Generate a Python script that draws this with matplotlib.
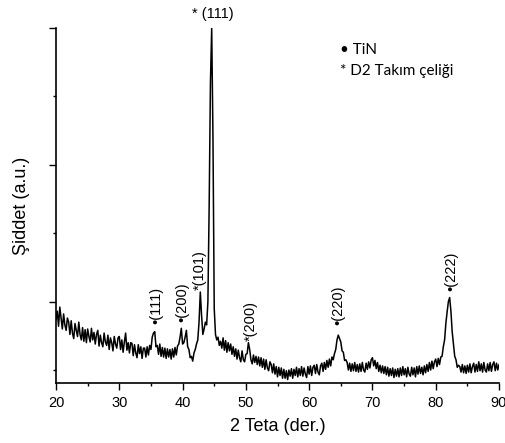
import numpy as np
import matplotlib.pyplot as plt
from matplotlib.ticker import MultipleLocator

# XRD pattern, 0.2 degree steps from 20 to 90
two_theta = np.linspace(20, 90, 351)
intensity = [
    870, 930, 820, 960, 880, 800, 910, 830, 790, 880,   # 20
    850, 760, 860, 770, 730, 840, 790, 745, 850, 760,   # 22
    720, 810, 710, 795, 700, 800, 745, 705, 805, 720,   # 24
    775, 690, 760, 790, 675, 755, 700, 670, 770, 705,   # 26
    680, 755, 650, 735, 700, 640, 745, 690, 660, 735,   # 28
    745, 650, 720, 630, 705, 770, 645, 700, 625, 700,   # 30
    695, 605, 685, 625, 590, 685, 620, 670, 585, 660,   # 32
    660, 595, 670, 610, 680, 650, 740, 770, 780, 670,   # 34
    680, 615, 690, 600, 665, 595, 660, 585, 655, 595,   # 36
    650, 580, 655, 595, 665, 610, 675, 690, 740, 805,   # 38
    690, 700, 740, 790, 670, 650, 590, 600, 565, 625,   # 40
    650, 690, 720, 850, 1070, 900, 760, 800, 850, 830,  # 42
    1000, 1700, 2600, 3000, 2200, 950, 760, 720, 740, 680,  # 44
    710, 660, 735, 645, 715, 630, 700, 640, 690, 615,   # 46
    670, 600, 655, 580, 645, 590, 560, 640, 575, 560,   # 48
    615, 620, 700, 650, 575, 545, 610, 555, 600, 540,   # 50
    595, 530, 590, 520, 580, 505, 575, 515, 495, 560,   # 52
    540, 480, 545, 470, 525, 450, 520, 460, 515, 440,   # 54
    505, 440, 495, 430, 500, 455, 510, 440, 505, 460,   # 56
    520, 450, 510, 460, 525, 455, 515, 470, 445, 525,   # 58
    470, 530, 460, 520, 535, 475, 540, 485, 465, 530,   # 60
    550, 490, 555, 505, 570, 520, 580, 530, 595, 575,   # 62
    620, 650, 720, 755, 730, 705, 640, 630, 570, 575,   # 64
    555, 500, 550, 490, 545, 495, 555, 490, 540, 485,   # 66
    545, 490, 555, 500, 485, 550, 505, 560, 515, 575,   # 68
    590, 530, 570, 510, 555, 490, 535, 480, 530, 475,   # 70
    525, 465, 520, 455, 510, 460, 515, 445, 505, 455,   # 72
    510, 450, 515, 460, 525, 465, 510, 450, 520, 470,   # 74
    455, 520, 465, 515, 450, 525, 470, 530, 475, 520,   # 76
    465, 530, 480, 540, 490, 555, 500, 565, 510, 560,   # 78
    580, 525, 585, 540, 595, 600, 670, 720, 840, 925,   # 80
    1000, 1030, 930, 780, 690, 600, 575, 520, 535, 525,  # 82
    485, 540, 480, 530, 475, 535, 485, 545, 480, 525,   # 84
    550, 485, 540, 490, 560, 495, 545, 485, 555, 500,   # 86
    485, 545, 495, 555, 490, 540, 560, 495, 550, 500,   # 88
    540,
]

# peak labels: text, x, y of the marker below the text
peak_labels = ['\u2022(111)', '\u2022(200)', '*(101)', '*(200)', '\u2022(220)', '\u2022(222)']
peak_x = [35.8, 39.9, 42.8, 50.8, 64.6, 82.4]
peak_y = [836, 850, 1084, 712, 828, 1077]

plt.rcParams['font.family'] = ['Liberation Sans', 'DejaVu Sans']

fig = plt.figure(figsize=(5.06, 4.43), dpi=100)
ax = fig.add_axes([0.1107, 0.1354, 0.8755, 0.8014])

ax.plot(two_theta, intensity, color='black', linewidth=1.1)

ax.set_xlim(20, 90)
ax.set_ylim(405, 3000)
ax.xaxis.set_major_locator(MultipleLocator(10))
ax.xaxis.set_minor_locator(MultipleLocator(5))
ax.yaxis.set_major_locator(MultipleLocator(1000))
ax.yaxis.set_minor_locator(MultipleLocator(500))
ax.set_yticklabels([])
ax.tick_params(which='major', direction='out', length=5, width=1.0, labelsize=10.5)
ax.tick_params(which='minor', direction='out', length=2.5, width=1.0)
ax.tick_params(axis='x', pad=4)
for side in ['top', 'right']:
    ax.spines[side].set_visible(False)
for side in ['left', 'bottom']:
    ax.spines[side].set_linewidth(1.2)

ax.set_xlabel('2 Teta (der.)', fontsize=13, labelpad=6)
ax.set_ylabel('Şiddet (a.u.)', fontsize=13, labelpad=10)

for lab, px, py in zip(peak_labels, peak_x, peak_y):
    ax.text(px, py, lab, rotation=90, ha='center', va='bottom', fontsize=10.5)

ax.annotate('* (111)', xy=(44.8, 3000), xytext=(0, 5), textcoords='offset points',
            ha='center', va='bottom', fontsize=10.5, annotation_clip=False)

fig.text(340 / 506, 1 - 50 / 443, '\u2022 TiN', family=['Lato', 'DejaVu Sans'],
         fontsize=11, va='center', ha='left')
fig.text(340 / 506, 1 - 71 / 443, '* D2 Takım çeliği', family=['Lato', 'DejaVu Sans'],
         fontsize=11, va='center', ha='left')

plt.savefig('out.png', dpi=100)
